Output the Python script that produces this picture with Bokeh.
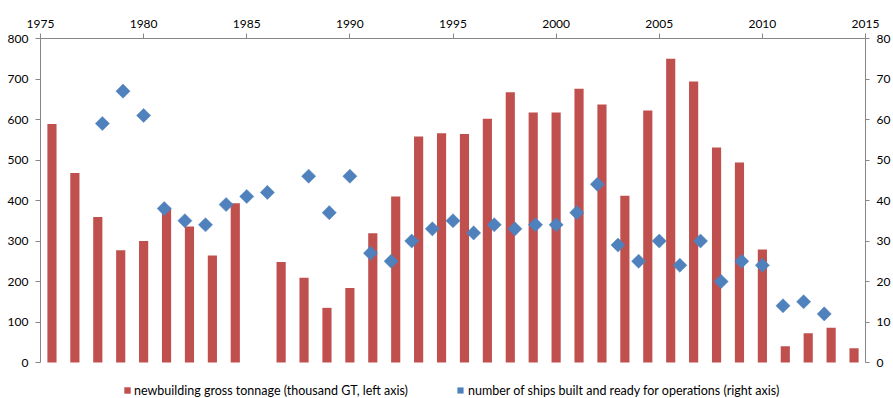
import numpy as np
from bokeh.plotting import figure
from bokeh.models import (Range1d, LinearAxis, FixedTicker, Legend,
                          LegendItem, ColumnDataSource)
from bokeh.embed import file_html
from bokeh.resources import INLINE

# ---- data ----
bar_slots = [str(i) for i in range(1, 37)]
tonnage = [589, 468, 359, 277, 300, 382, 336, 264, 393, None,
           248, 209, 135, 184, 319, 410, 558, 566, 564, 602,
           667, 617, 617, 676, 637, 412, 622, 750, 694, 531,
           494, 279, 40, 72, 86, 35]

ship_years = [1978, 1979, 1980, 1981, 1982, 1983, 1984, 1985, 1986,
              1988, 1989, 1990, 1991, 1992, 1993, 1994, 1995, 1996, 1997,
              1998, 1999, 2000, 2001, 2002, 2003, 2004, 2005, 2006, 2007,
              2008, 2009, 2010, 2011, 2012, 2013]
ships = [59, 67, 61, 38, 35, 34, 39, 41, 42,
         46, 37, 46, 27, 25, 30, 33, 35, 32, 34,
         33, 34, 34, 37, 44, 29, 25, 30, 24, 30,
         20, 25, 24, 14, 15, 12]

year_ticks = [1975, 1980, 1985, 1990, 1995, 2000, 2005, 2010, 2015]
left_ticks = [0, 100, 200, 300, 400, 500, 600, 700, 800]
right_ticks = [0, 10, 20, 30, 40, 50, 60, 70, 80]

label_bars = "newbuilding gross tonnage (thousand GT, left axis)"
label_ships = "number of ships built and ready for operations (right axis)"

# ---- layout (pixels) ----
W, H = 893, 398
TOP, AXIS_H, LEGEND_BAND = 38, 324, 36     # frame top, axis span, legend band under axis
FONT = "Lato"
pad_frac = LEGEND_BAND / AXIS_H            # extend ranges downward to hold the legend

p = figure(width=W, height=H,
           x_range=Range1d(year_ticks[0], year_ticks[-1]),
           y_range=Range1d(left_ticks[0] - pad_frac * (left_ticks[-1] - left_ticks[0]),
                           left_ticks[-1]),
           x_axis_location="above",
           output_backend="svg", toolbar_location=None,
           min_border_left=40, min_border_right=24,
           min_border_top=TOP, min_border_bottom=0)
# bars sit on an evenly spaced category axis spanning the full width
p.extra_x_ranges = {"slots": Range1d(0, len(bar_slots))}
p.extra_y_ranges = {"ships": Range1d(
    right_ticks[0] - pad_frac * (right_ticks[-1] - right_ticks[0]), right_ticks[-1])}
p.outline_line_color = None
p.ygrid.grid_line_color = None
p.xgrid.grid_line_color = None
p.background_fill_color = "white"
p.border_fill_color = "white"

bar_src = ColumnDataSource(dict(
    slot=[i + 0.5 for i in range(len(bar_slots))],
    name=bar_slots,
    tonnage=[np.nan if v is None else v for v in tonnage]))
ship_src = ColumnDataSource(dict(year=ship_years, ships=ships))

bars = p.vbar(x="slot", top="tonnage", bottom=0, width=0.4, source=bar_src,
              x_range_name="slots",
              fill_color="#C0504D", line_color=None)
pts = p.scatter(x="year", y="ships", source=ship_src,
                y_range_name="ships",
                marker="square", angle=np.pi / 4, size=10,
                fill_color="#4F81BD", line_color="#4F81BD", line_width=0.5)


def style(ax, standoff=7, tick_out=5):
    ax.axis_line_color = "#868686"
    ax.major_tick_line_color = "#868686"
    ax.major_tick_out = tick_out
    ax.major_tick_in = 0
    ax.minor_tick_line_color = None
    ax.major_label_text_font = FONT
    ax.major_label_text_font_size = "12px"
    ax.major_label_text_color = "#000000"
    ax.major_label_standoff = standoff


left = p.yaxis[0]
left.ticker = FixedTicker(ticks=left_ticks)
left.bounds = (left_ticks[0], left_ticks[-1])
style(left, standoff=7)

top = p.xaxis[0]
top.ticker = FixedTicker(ticks=year_ticks)
style(top, standoff=6)

right = LinearAxis(y_range_name="ships", ticker=FixedTicker(ticks=right_ticks),
                   bounds=(right_ticks[0], right_ticks[-1]))
style(right, standoff=7, tick_out=4)
p.add_layout(right, "right")

for item, xloc, glyph, standoff in (
        (LegendItem(label=label_bars, renderers=[bars]), 83, 8, 3),
        (LegendItem(label=label_ships, renderers=[pts]), 413, 14, 1)):
    lg = Legend(items=[item], location=(xloc, 0), orientation="horizontal",
                padding=0, margin=0, border_line_color=None,
                background_fill_alpha=0,
                glyph_width=glyph, glyph_height=glyph, label_standoff=standoff,
                label_text_font=FONT, label_text_font_size="12.5px",
                label_text_color="#000000", label_height=16)
    p.add_layout(lg, "center")

open("out.html", "w").write(file_html(p, INLINE))
